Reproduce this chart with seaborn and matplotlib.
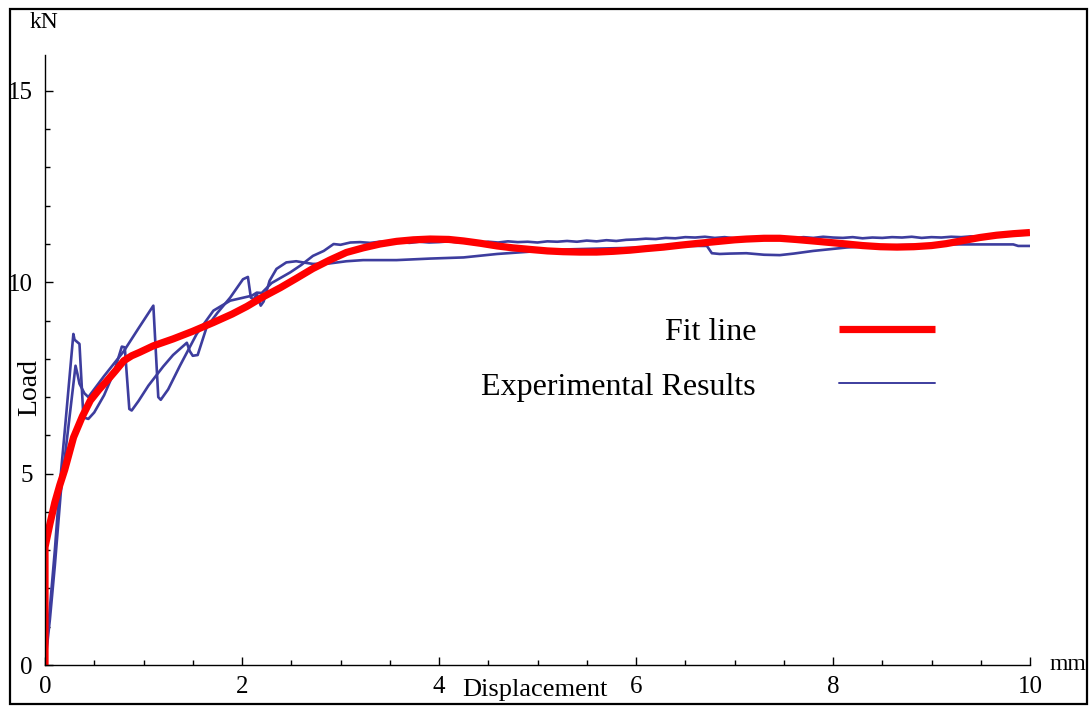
import matplotlib
matplotlib.use("Agg")
import matplotlib.pyplot as plt
from matplotlib.lines import Line2D
from matplotlib.patches import Rectangle
from matplotlib.ticker import MultipleLocator
import seaborn as sns
import pandas as pd

# ---------------- data ----------------
exp1_x = [0, 0.05, 0.1, 0.145, 0.2, 0.288, 0.3, 0.35, 0.39, 0.44, 0.5, 0.6, 0.7, 0.78, 0.81,
          0.856, 0.88, 0.95, 1.05, 1.2, 1.3, 1.44, 1.47, 1.5, 1.55, 1.64, 1.75, 1.88, 2.01,
          2.06, 2.09, 2.12, 2.15, 2.19, 2.22, 2.28, 2.35, 2.45, 2.55, 2.62, 2.72, 2.88, 3.06,
          3.23, 3.57, 3.91, 4.25, 4.59, 4.92, 5.3, 5.6, 5.95, 6.28, 6.55, 6.72, 6.77, 6.85,
          6.95, 7.12, 7.3, 7.46, 7.6, 7.8, 8.14, 8.5, 8.82, 9.15, 9.49, 9.83, 9.88, 10.0]
exp1_y = [0, 1.5, 3.0, 4.56, 6.1, 8.65, 8.5, 8.39, 6.47, 6.43, 6.6, 7.05, 7.65, 8.32, 8.3,
          6.69, 6.65, 6.9, 7.3, 7.8, 8.1, 8.42, 8.2, 8.08, 8.1, 8.82, 9.2, 9.6, 10.08,
          10.14, 9.6, 9.55, 9.7, 9.39, 9.5, 10.04, 10.35, 10.52, 10.55, 10.52, 10.48, 10.49, 10.55,
          10.58, 10.58, 10.62, 10.65, 10.74, 10.8, 10.86, 10.88, 10.9, 10.92, 10.95, 10.95, 10.76, 10.74,
          10.75, 10.76, 10.72, 10.71, 10.75, 10.82, 10.91, 10.96, 10.98, 10.99, 10.99, 10.99, 10.95, 10.95]

exp2_x = [0, 0.05, 0.1, 0.16, 0.2, 0.31, 0.33, 0.35, 0.4, 0.44, 0.6, 0.8, 0.95, 1.1, 1.15,
          1.175, 1.25, 1.37, 1.54, 1.71, 1.88, 2.1, 2.15, 2.2, 2.3, 2.49, 2.6, 2.72, 2.83, 2.93,
          3.0, 3.1, 3.2, 3.3, 3.4, 3.5, 3.6, 3.7, 3.8, 3.9, 4.0, 4.1, 4.2, 4.3, 4.4, 4.5, 4.6,
          4.7, 4.8, 4.9, 5.0, 5.1, 5.2, 5.3, 5.4, 5.5, 5.6, 5.7, 5.8, 5.9, 6.0, 6.1, 6.2, 6.3,
          6.4, 6.5, 6.6, 6.7, 6.8, 6.9, 7.0, 7.1, 7.2, 7.3, 7.4, 7.5, 7.6, 7.7, 7.8, 7.9, 8.0,
          8.1, 8.2, 8.3, 8.4, 8.5, 8.6, 8.7, 8.8, 8.9, 9.0, 9.1, 9.2, 9.3, 9.4, 9.5, 9.6, 9.7,
          9.8, 9.9, 10.0]
exp2_y = [0, 1.2, 2.6, 4.5, 5.4, 7.82, 7.6, 7.35, 7.1, 7.0, 7.55, 8.2, 8.8, 9.39, 7.0,
          6.93, 7.2, 7.82, 8.65, 9.26, 9.52, 9.65, 9.73, 9.72, 9.98, 10.26, 10.45, 10.69, 10.82, 11.0,
          10.98, 11.04, 11.05, 11.03, 11.06, 11.04, 11.05, 11.03, 11.06, 11.04, 11.05, 11.07, 11.04, 11.05, 11.03, 11.06, 11.04,
          11.07, 11.05, 11.06, 11.04, 11.07, 11.06, 11.08, 11.06, 11.09, 11.07, 11.1, 11.08, 11.11, 11.12, 11.14, 11.13, 11.16,
          11.15, 11.18, 11.17, 11.19, 11.16, 11.18, 11.15, 11.17, 11.15, 11.18, 11.16, 11.17, 11.15, 11.18, 11.16, 11.19, 11.17,
          11.16, 11.18, 11.15, 11.17, 11.16, 11.18, 11.17, 11.19, 11.16, 11.18, 11.17, 11.19, 11.18, 11.2, 11.19, 11.21, 11.22,
          11.23, 11.24, 11.25]

fit_x = [0, 0, 0.05, 0.1, 0.15, 0.2, 0.29, 0.38, 0.46, 0.55, 0.63, 0.72, 0.8, 0.88, 0.96, 1.1,
         1.3, 1.5, 1.71, 1.9, 2.05, 2.2, 2.39, 2.55, 2.72, 2.89, 3.06, 3.23, 3.4, 3.57, 3.74,
         3.91, 4.1, 4.25, 4.42, 4.59, 4.75, 4.92, 5.1, 5.26, 5.43, 5.6, 5.77, 5.94, 6.1, 6.28,
         6.45, 6.6, 6.8, 7.0, 7.12, 7.3, 7.46, 7.62, 7.8, 7.97, 8.14, 8.3, 8.48, 8.65, 8.82,
         9.0, 9.15, 9.32, 9.49, 9.66, 9.83, 10.0]
fit_y = [0, 3.08, 3.69, 4.25, 4.7, 5.1, 5.95, 6.5, 6.91, 7.2, 7.43, 7.7, 7.95, 8.08, 8.17, 8.34,
         8.52, 8.72, 8.95, 9.17, 9.37, 9.6, 9.86, 10.1, 10.36, 10.58, 10.78, 10.9, 11.0, 11.07, 11.11,
         11.13, 11.12, 11.08, 11.02, 10.95, 10.9, 10.86, 10.82, 10.8, 10.79, 10.79, 10.81, 10.84, 10.88, 10.92,
         10.97, 11.01, 11.06, 11.11, 11.13, 11.15, 11.15, 11.12, 11.08, 11.04, 11.0, 10.96, 10.93, 10.92, 10.93,
         10.96, 11.01, 11.09, 11.17, 11.23, 11.27, 11.3]

x_ticks = [0, 2, 4, 6, 8, 10]
y_ticks = [0, 5, 10, 15]
legend_labels = ["Fit line", "Experimental Results"]

BLUE = "#3d3d9e"
RED = "#ff0000"

# ---------------- figure ----------------
sns.set_theme(style="white")
plt.rcParams["font.family"] = ["Liberation Serif", "DejaVu Serif"]
plt.rcParams["text.color"] = "black"
plt.rcParams["xtick.color"] = "black"
plt.rcParams["ytick.color"] = "black"
plt.rcParams["axes.labelcolor"] = "black"

W, H = 1091, 706
fig = plt.figure(figsize=(W / 100, H / 100), dpi=100)
ax_l, ax_r, ax_b, ax_t = 45, 1030, 665, 55
ax = fig.add_axes([ax_l / W, 1 - ax_b / H, (ax_r - ax_l) / W, (ax_b - ax_t) / H])
ax.set_facecolor("white")

df1 = pd.DataFrame({"x": exp1_x, "y": exp1_y})
df2 = pd.DataFrame({"x": exp2_x, "y": exp2_y})
dff = pd.DataFrame({"x": fit_x, "y": fit_y})

sns.lineplot(data=df1, x="x", y="y", ax=ax, color=BLUE, lw=1.9, sort=False, estimator=None)
sns.lineplot(data=df2, x="x", y="y", ax=ax, color=BLUE, lw=1.9, sort=False, estimator=None)
sns.lineplot(data=dff, x="x", y="y", ax=ax, color=RED, lw=5.2, sort=False, estimator=None,
             solid_capstyle="butt")

ax.set_xlim(0, 10)
ax.set_ylim(0, (ax_b - ax_t) / 38.27)
ax.set_xlabel("")
ax.set_ylabel("")

for s in ["top", "right"]:
    ax.spines[s].set_visible(False)
for s in ["left", "bottom"]:
    ax.spines[s].set_color("black")
    ax.spines[s].set_linewidth(1.0)

ax.set_xticks(x_ticks)
ax.set_yticks(y_ticks)
ax.xaxis.set_minor_locator(MultipleLocator(0.5))
ax.yaxis.set_minor_locator(MultipleLocator(1))
ax.tick_params(which="both", direction="in", color="black", width=1.0,
               bottom=True, left=True, top=False, right=False, labelcolor="black")
ax.tick_params(which="major", length=6)
ax.tick_params(which="minor", length=3.5)
ax.tick_params(axis="x", which="major", labelsize=18, pad=8)
ax.tick_params(axis="y", which="major", labelsize=18, pad=9)

# legend
handles = [Line2D([], [], color=RED, lw=5.2, solid_capstyle="butt"),
           Line2D([], [], color=BLUE, lw=1.4)]
leg = ax.legend(handles, legend_labels, loc="upper right", frameon=False, markerfirst=False,
                bbox_to_anchor=((935 - ax_l) / (ax_r - ax_l), (ax_b - 318) / (ax_b - ax_t)),
                borderpad=0, borderaxespad=0, handlelength=3.0, handletextpad=2.6,
                labelspacing=0.78, fontsize=23)
for t in leg.get_texts():
    t.set_color("black")

# axis annotations
fig.text(44 / W, 1 - 22 / H, "kN", ha="center", va="center", fontsize=17, color="black")
fig.text(1068 / W, 1 - 664 / H, "mm", ha="center", va="center", fontsize=17, color="black")
fig.text(535 / W, 1 - 690 / H, "Displacement", ha="center", va="center", fontsize=19, color="black")
fig.text(30 / W, 1 - 387 / H, "Load", ha="center", va="center", fontsize=20, rotation=90,
         color="black")

# outer frame
fig.patches.append(Rectangle((10 / W, 1 - 704 / H), 1077 / W, 695 / H, transform=fig.transFigure,
                             fill=False, edgecolor="black", lw=1.6))

fig.savefig("out.png", dpi=100, facecolor="white")
